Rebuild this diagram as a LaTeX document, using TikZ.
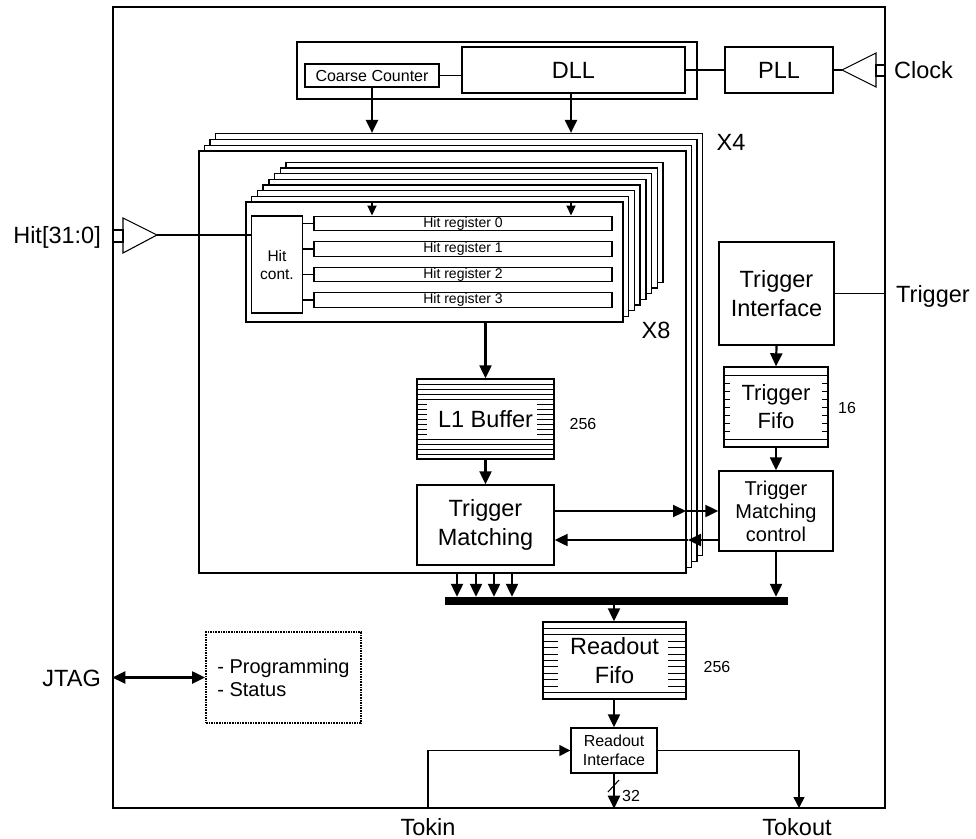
\documentclass[tikz,border=0pt]{standalone}
\usepackage{fontspec}
\setmainfont{Liberation Sans}
\usetikzlibrary{arrows.meta}
\newcommand\fifolines[9]{%
  \foreach \k in {1,...,#5} {\draw[line width=1pt] (#1,{#2+(#4-#2)*\k/(#5+1)}) -- (#3,{#2+(#4-#2)*\k/(#5+1)});}
  \fill[white] (#6,#7) rectangle (#8,#9);
}
\begin{document}
\begin{tikzpicture}[x=1pt,y=-1pt,
  box/.style={draw, line width=1.4pt, fill=white, inner sep=0pt},
  thinln/.style={line width=1.1pt},
  arr/.style={line width=2.2pt, -{Triangle[length=13pt,width=12pt]}},
  sarr/.style={line width=1.8pt, -{Triangle[length=10pt,width=9pt]}},
  dbl/.style={line width=2.2pt, {Triangle[length=13pt,width=12pt]}-{Triangle[length=13pt,width=12pt]}},
  big/.style={font=\fontsize{23.5}{28.5}\selectfont, align=center},
  mid/.style={font=\fontsize{20}{23}\selectfont, align=center},
  small/.style={font=\fontsize{16}{19}\selectfont, align=center},
  tiny/.style={font=\fontsize{14}{16}\selectfont},
  lbl/.style={inner sep=0pt},
]
\useasboundingbox (0,0) rectangle (976,838);
\fill[white] (0,0) rectangle (976,838);

% chip outline
\node[box, minimum width=772pt, minimum height=801pt] (chip) at (499,407.5) {};

% DLL group
\node[box, minimum width=400pt, minimum height=57pt] (dllgrp) at (497,70.5) {};
\node[box, minimum width=223pt, minimum height=46pt, big] (dll) at (573.5,70) {DLL};
\node[box, minimum width=134pt, minimum height=23pt, small] (cc) at (372,75.5) {Coarse Counter};
\node[box, minimum width=108pt, minimum height=46pt, big] (pll) at (779,70) {PLL};
\draw[thinln] (cc.east) -- (dll.west |- cc.east);
\draw[thinln] (dll.east) -- (pll.west);

% clock buffer
\draw[thinln, fill=white] (876,53) -- (842,70) -- (876,87) -- cycle;
\draw[thinln] (876,65) rectangle (885,76);
\coordinate (clkin) at (842,70);
\draw[thinln] (clkin) -- (pll.east);
\node[lbl, big, anchor=base west] (clocklbl) at (894,78.4) {Clock};

% X4 stack
\foreach \k in {3,2,1,0} {
  \node[box, minimum width=487pt, minimum height=422pt] (x4b\k) at ({442.5+5.5*\k},{362-5.8*\k}) {};
}
\node[lbl, big, anchor=base] (x4lbl) at (731,150.4) {X4};
\draw[arr] (cc.south) -- (cc.south |- x4b3.north);
\draw[arr] ([xshift=-2.5pt]dll.south) -- ([xshift=-2.5pt]dll.south |- x4b3.north);

% X8 stack
\foreach \k in {7,6,...,0} {
  \node[box, minimum width=377pt, minimum height=120pt] (x8b\k) at ({434.5+5.7*\k},{262-5.65*\k}) {};
}
\node[lbl, big, anchor=base] (x8lbl) at (656,338.4) {X8};
\node[box, minimum width=51pt, minimum height=97pt, font=\fontsize{15.5}{18}\selectfont, align=center] (hitc) at (277,264.5) {Hit\\cont.};
\foreach \i/\y in {0/223.5,1/249,2/274.5,3/300} {
  \node[box, minimum width=298pt, minimum height=14.5pt, tiny] (reg\i) at (463,\y) {Hit register \i};
  \draw[thinln] (hitc.east |- reg\i.west) -- (reg\i.west);
}
\draw[sarr] (372,202) -- (reg0.north -| 372,0);
\draw[sarr] (571,202) -- (reg0.north -| 571,0);

% hit input buffer
\draw[thinln, fill=white] (123,218) -- (157,235) -- (123,253) -- cycle;
\draw[thinln] (113.5,230) rectangle (123,242);
\coordinate (hitin) at (157,235);
\draw[thinln] (hitin) -- (hitc.west |- hitin);
\node[lbl, big, anchor=base east] (hitlbl) at (101,243.4) {Hit[31:0]};

% L1 buffer
\node[box, minimum width=137pt, minimum height=80pt] (L1) at (485.5,419) {};
\fifolines{417}{379}{554}{459}{15}{427}{402}{537}{437}
\draw[line width=1.4pt] (417,379) rectangle (554,459);
\node[lbl, big] (L1t) at (L1.center) {L1 Buffer};
\node[lbl, small, anchor=base] (n256a) at (583,429.7) {256};
\draw[arr] (x8b0.south -| L1.north) -- (L1.north);

% Trigger matching
\node[box, minimum width=137pt, minimum height=80pt, big] (TM) at (485.5,525) {Trigger\\Matching};
\draw[arr] (L1.south) -- (TM.north);

% Trigger interface
\node[box, minimum width=115pt, minimum height=103pt, big] (TI) at (776.5,293.5) {Trigger\\Interface};
\draw[thinln] (TI.east) -- (chip.east |- TI.east);
\node[lbl, big, anchor=base west] (trglbl) at (896,302) {Trigger};

% Trigger fifo
\node[box, minimum width=104pt, minimum height=80pt] (TF) at (776,407) {};
\fifolines{724}{367}{828}{447}{9}{730}{380}{822}{437}
\draw[line width=1.4pt] (724,367) rectangle (828,447);
\node[lbl, font=\fontsize{22}{28}\selectfont, align=center] (TFt) at (TF.center) {Trigger\\Fifo};
\node[lbl, small, anchor=base] (n16) at (847,413.7) {16};
\draw[arr] (TI.south) -- (TF.north);

% Trigger matching control
\node[box, minimum width=114pt, minimum height=80pt, mid] (TMC) at (776,511) {Trigger\\Matching\\control};
\draw[arr] (TF.south) -- (TMC.north);

\coordinate (ra) at (686,511);
\coordinate (rb) at (688,540);
\draw[arr] (TM.east |- ra) -- (ra);
\draw[arr] (ra) -- (TMC.west |- ra);
\draw[arr] (TMC.west |- rb) -- ([xshift=12pt]rb) -- (rb);
\draw[arr] (rb) -- (TM.east |- rb);

% bus
\node[fill=black, inner sep=0pt, minimum width=343pt, minimum height=8pt] (bus) at (616.5,601) {};
\foreach \x in {457,476,494,512} {
  \draw[arr] (x4b0.south -| \x,0) -- (bus.north -| \x,0);
}
\draw[arr] (TMC.south) -- (bus.north -| TMC.south);

% Readout fifo
\node[box, minimum width=143pt, minimum height=77pt] (RF) at (614.5,660.5) {};
\fifolines{543}{622}{686}{699}{11}{558}{636}{668}{692}
\draw[line width=1.4pt] (543,622) rectangle (686,699);
\node[lbl, big] (RFt) at (RF.center) {Readout\\Fifo};
\node[lbl, small, anchor=base] (n256b) at (717,672.7) {256};
\draw[arr] (bus.south -| 614,0) -- (RF.north -| 614,0);

% Readout interface
\node[box, minimum width=86pt, minimum height=45pt, small] (RI) at (614,750.5) {Readout\\Interface};
\draw[arr] (RF.south -| RI.north) -- (RI.north);
\draw[arr] (RI.south) -- (chip.south -| RI.south);
\draw[thinln] (608,792) -- (619,780);
\node[lbl, small, anchor=base west] (n32) at (622,801.7) {32};

\coordinate (tokin) at (428,808);
\coordinate (tokout) at (799,808);
\draw[line width=1.4pt, -{Triangle[length=11pt,width=11pt]}] (tokin) |- (RI.west);
\draw[line width=1.4pt, -{Triangle[length=11pt,width=11pt]}] (RI.east) -| (tokout);
\node[lbl, big, anchor=base] (tokinl) at (428,835) {Tokin};
\node[lbl, big, anchor=base] (tokoutl) at (797,835) {Tokout};

% JTAG
\node[draw, dash pattern=on 1.6pt off 1pt, line width=1.8pt, inner sep=0pt, minimum width=155pt, minimum height=91pt, mid, align=left] (prog) at (283.5,677.5) {- Programming\\- Status};
\draw[dbl] (chip.west |- prog.west) -- (prog.west);
\node[lbl, big, anchor=base east] (jtag) at (101,686.4) {JTAG};
\end{tikzpicture}
\end{document}
